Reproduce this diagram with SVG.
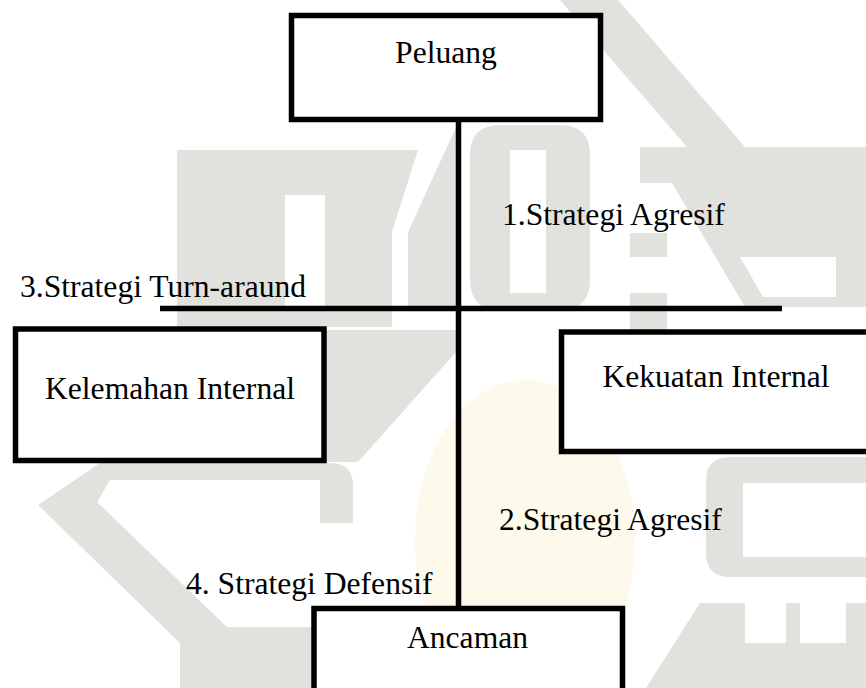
<svg xmlns="http://www.w3.org/2000/svg" width="866" height="688" viewBox="0 0 866 688">
<style>
.wm{fill:#e1e2de;stroke:none}
.box{fill:#ffffff;stroke:#000;stroke-width:5.5}
.ln{stroke:#000;stroke-width:5.5;fill:none}
.t{font-family:"Liberation Serif","Times New Roman",serif;font-size:31.6px;fill:#000}
</style>
<rect width="866" height="688" fill="#ffffff"/>
<g id="watermark">
<ellipse cx="525" cy="540" rx="110" ry="160" fill="#fdfaeb"/>
<path class="wm" fill-rule="evenodd" d="M177,150 H418 L392,232 V327 H177 Z M285,195 H325 V310 H285 Z"/>
<polygon class="wm" points="408,310 408,232 458,123 458,310"/>
<polygon class="wm" points="326,330 456,330 456,352 358,462 326,462"/>
<path class="wm" fill-rule="evenodd" d="M500,125 H560 Q590,125 590,155 V280 Q590,310 560,310 H500 Q470,310 470,280 V155 Q470,125 500,125 Z M510,150 H546 V293 H510 Z"/>
<rect class="wm" x="630" y="233" width="37" height="24"/>
<rect class="wm" x="630" y="293" width="37" height="40"/>
<polygon class="wm" points="560,0 618,0 745,147 687,147"/>
<path class="wm" fill-rule="evenodd" d="M640,147 H866 V307 H745 L672,183 H640 Z M740,257 H836 V297 H763 Z"/>
<path class="wm" d="M38,505 L100,463 H330 Q353,463 353,486 V523 H320 V480 H110 L97,502 L227,627 H312 V688 H180 V643 Z"/>
<path class="wm" fill-rule="evenodd" d="M730,457 H866 V577 H730 Q706,577 706,553 V481 Q706,457 730,457 Z M743,483 H866 V557 H743 Z"/>
<path class="wm" fill-rule="evenodd" d="M700,603 H866 V688 H646 Z M745,603 H786 V643 H745 Z M800,603 H846 V643 H800 Z"/>
</g>
<g id="connectors">
<line class="ln" x1="458.5" y1="119" x2="458.5" y2="608"/>
<line class="ln" x1="160" y1="308.5" x2="782" y2="308.5"/>
</g>
<g id="peluang">
<rect class="box" x="291.5" y="15.5" width="309" height="104"/>
<text class="t" x="446" y="63" text-anchor="middle">Peluang</text>
</g>
<g id="kelemahan">
<rect class="box" x="15.5" y="329" width="308.5" height="131.5"/>
<text class="t" x="170" y="399" text-anchor="middle">Kelemahan Internal</text>
</g>
<g id="kekuatan">
<rect class="box" x="561.5" y="332" width="320" height="119.5"/>
<text class="t" x="716" y="387" text-anchor="middle">Kekuatan Internal</text>
</g>
<g id="ancaman">
<rect class="box" x="314" y="608.5" width="308.5" height="100"/>
<text class="t" x="467.5" y="648" text-anchor="middle">Ancaman</text>
</g>
<g id="labels">
<text class="t" x="502" y="225">1.Strategi Agresif</text>
<text class="t" x="499" y="530">2.Strategi Agresif</text>
<text class="t" x="20" y="297">3.Strategi Turn-araund</text>
<text class="t" x="186" y="594">4. Strategi Defensif</text>
</g>
</svg>
